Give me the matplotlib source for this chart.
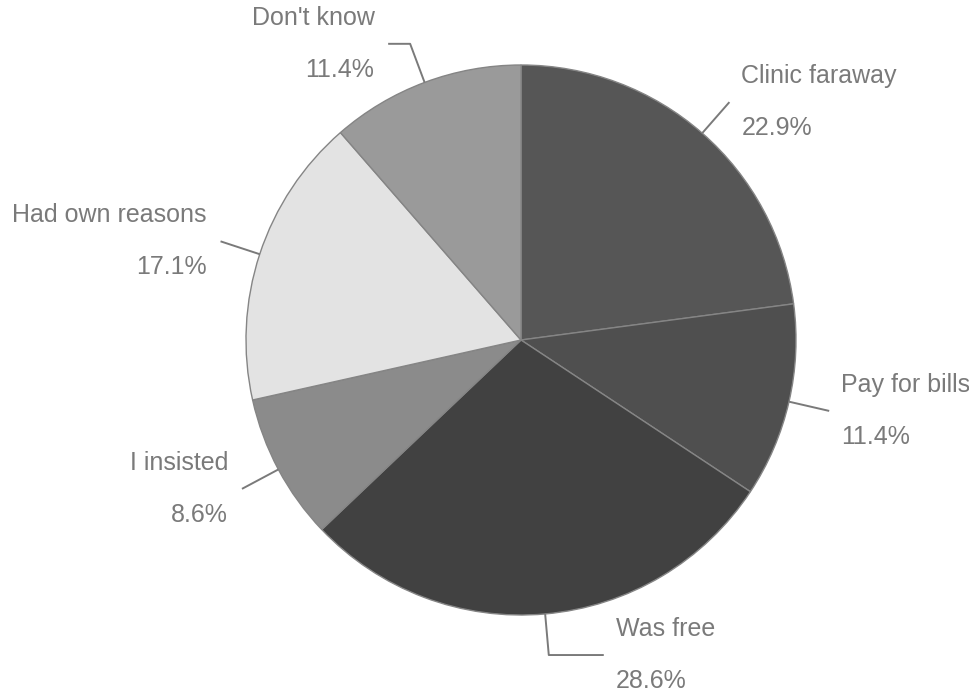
import numpy as np
from matplotlib import pyplot as plt

labels = ["Clinic faraway", "Pay for bills", "Was free", "I insisted", "Had own reasons", "Don't know"]
shares = [22.9, 11.4, 28.6, 8.6, 17.1, 11.4]
colors = ["#565656", "#4f4f4f", "#414141", "#8b8b8b", "#e3e3e3", "#9a9a9a"]
# extra horizontal leg of the leader line (in radius units), 0 = plain radial line
legs = [0, 0, 0.2, 0, 0, -0.08]

plt.rcParams["font.family"] = ["Liberation Sans", "DejaVu Sans"]
txt_col = "#7a7a7a"

fig = plt.figure(figsize=(9.7, 6.95), dpi=100)
# pie centre at (521, 340) px, radius 275 px
ax = fig.add_axes([(521 - 275) / 970, 1 - (340 + 275) / 695, 550 / 970, 550 / 695])
wedges, _ = ax.pie(shares, colors=colors, startangle=90, counterclock=False, radius=1,
                   wedgeprops=dict(edgecolor="#858585", linewidth=1))
ax.set_xlim(-1, 1)
ax.set_ylim(-1, 1)
ax.set_aspect("equal")
ax.axis("off")

for w, lab, val, leg in zip(wedges, labels, shares, legs):
    ang = np.deg2rad((w.theta1 + w.theta2) / 2)
    x0, y0 = np.cos(ang), np.sin(ang)
    x1, y1 = 1.15 * x0, 1.15 * y0
    xs, ys = [x0, x1], [y0, y1]
    if leg:
        xs.append(x1 + leg)
        ys.append(y1)
    ax.plot(xs, ys, color=txt_col, lw=1.4, clip_on=False, solid_capstyle="butt")
    right = xs[-1] >= 0 if not leg else leg > 0
    dx = 0.044 if right else -0.05
    ha = "left" if right else "right"
    ax.text(xs[-1] + dx, ys[-1] + 0.095, lab, ha=ha, va="center", fontsize=18,
            color=txt_col, clip_on=False)
    ax.text(xs[-1] + dx, ys[-1] - 0.095, f"{val:.1f}%", ha=ha, va="center", fontsize=18,
            color=txt_col, clip_on=False)

fig.savefig("out.png", dpi=100, facecolor="white")
